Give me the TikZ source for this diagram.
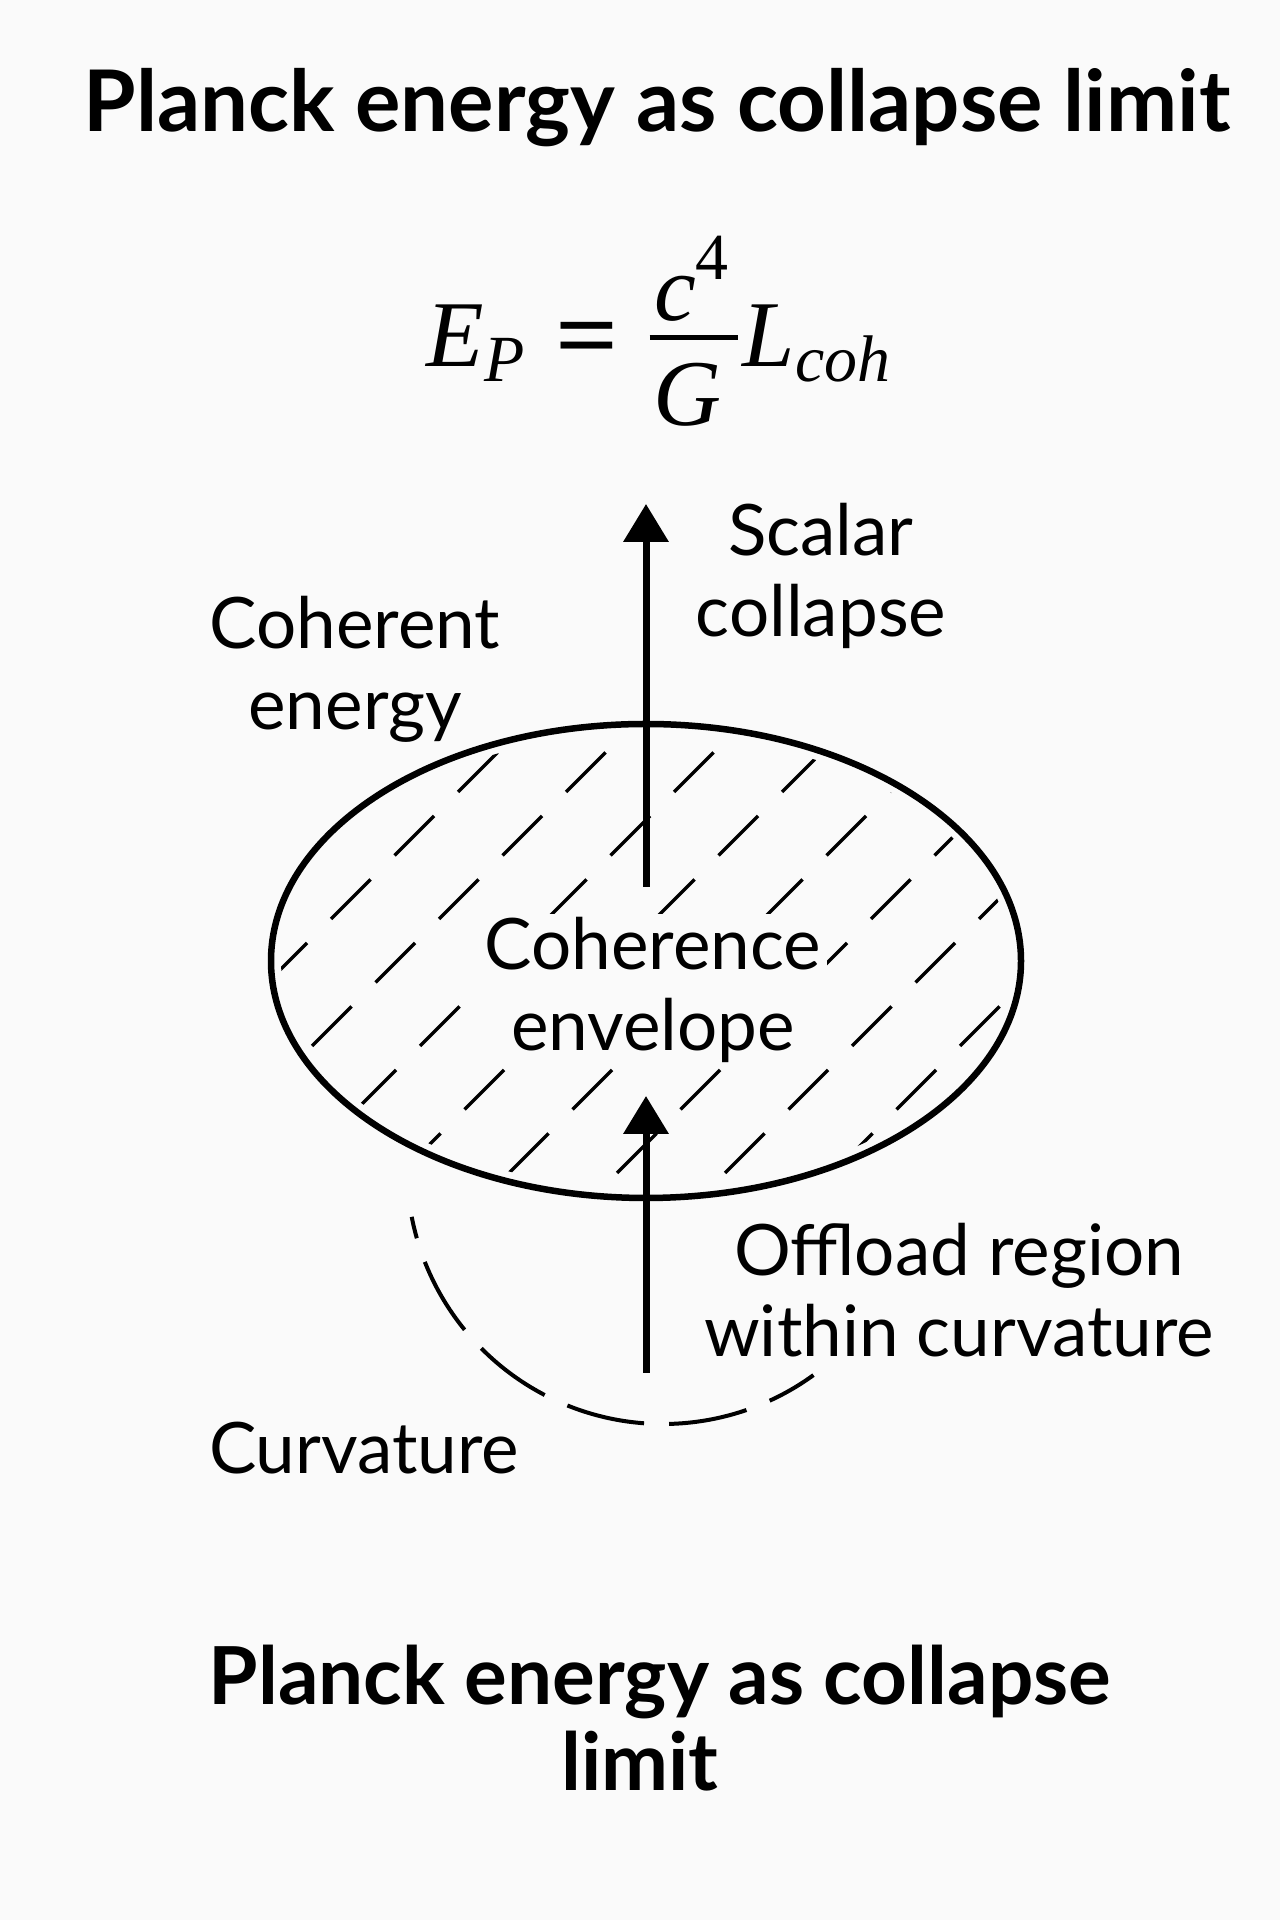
\documentclass[tikz,border=0pt]{standalone}
\usepackage{amsmath}
\usepackage{graphicx}
\usepackage[no-math]{fontspec}
\setmainfont{Lato}
\newfontfamily\eqf{Liberation Serif}
\newcommand{\eqi}[1]{\text{\eqf\itshape #1}}
\newcommand{\equp}[1]{\text{\eqf #1}}
\usetikzlibrary{arrows.meta}
\definecolor{bgc}{RGB}{250,250,250}
\tikzset{
  lbl/.style={align=center, inner sep=0pt, font=\fontsize{71bp}{81bp}\selectfont},
  ttl/.style={align=center, inner sep=0pt, font=\fontsize{85bp}{95bp}\selectfont\bfseries},
  btl/.style={align=center, inner sep=0pt, font=\fontsize{80bp}{86bp}\selectfont\bfseries},
  arr/.style={line width=7bp, -{Triangle[length=38bp,width=44bp]}},
  hatch/.style={line width=3.3bp, dash pattern=on 56bp off 33.8bp},
  curv/.style={line width=4bp, dash pattern=on 79bp off 25bp, dash phase=57bp},
}
\begin{document}
\begin{tikzpicture}[x=1bp,y=1bp]
\useasboundingbox (0,0) rectangle (1280,1920);
\fill[bgc] (0,0) rectangle (1280,1920);

% titles
\node[ttl, anchor=base] (title) at (657,1788) {Planck energy as collapse limit};
\node[btl, anchor=base] (btitle) at (660,129) {Planck energy as collapse\\limit\hspace*{40bp}};

% equation
\node[inner sep=0pt, anchor=base, scale=9.45, font=\fontsize{10pt}{12pt}\selectfont] (eq) at (661,1553)
  {\nulldelimiterspace=0.5pt$\displaystyle \eqi{E}_{\eqi{P}}\mathrel{\raisebox{-0.2pt}{\scalebox{1.18}[1.05]{\eqf\bfseries =}}}\raisebox{0.6pt}{$\displaystyle{\raisebox{-2.85pt}[\height][0pt]{$\displaystyle\eqi{c}^{\text{\raisebox{0.25pt}{\eqf 4}}}$}\above 0.5pt {\kern0.4pt\eqi{G}\kern1.8pt}}$}\eqi{L}_{\eqi{coh}}$};

% hatching inside envelope
\begin{scope}
  \clip (646,959) ellipse [x radius=365, y radius=227];
  \foreach \k in {-1,...,8}{
    \pgfmathsetmacro{\C}{1250+108*\k}
    \draw[hatch] ({\C-1300},620) -- ({\C-600},1320);
  }
\end{scope}

% envelope
\draw[line width=6.5bp] (646,959) ellipse [x radius=375, y radius=237];
\node[inner sep=0pt, minimum width=750bp, minimum height=474bp] (env) at (646,959) {};

% curvature arc
\draw[curv] (663,752) ++(191:256) arc[start angle=191, end angle=306, radius=256];

% arrows
\coordinate (a1s) at (646,1033);
\coordinate (a1e) at (646,1416);
\coordinate (a2s) at (646,547);
\coordinate (a2e) at (646,824);
\draw[arr] (a1s) -- (a1e);
\draw[arr] (a2s) -- (a2e);

% labels
\node[lbl, anchor=base] (scalar) at (821,1283) {Scalar\\collapse};
\node[lbl, anchor=base] (cohen) at (355,1190) {Coherent\\energy};
\node[lbl, anchor=base, fill=bgc, inner xsep=6bp, inner ysep=4bp] (cenv) at (653,869) {Coherence\\envelope};
\node[lbl, anchor=base] (offl) at (959,563) {Offload region\\within curvature};
\node[lbl, anchor=base] (curvl) at (364,446) {Curvature};
\end{tikzpicture}
\end{document}
